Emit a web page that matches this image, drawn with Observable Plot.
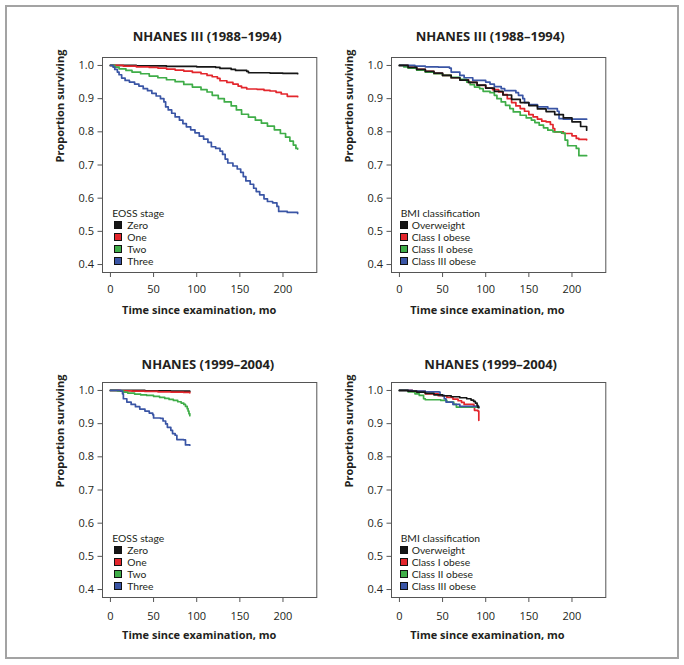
<!DOCTYPE html>
<html><head><meta charset="utf-8">
<script src="https://cdn.jsdelivr.net/npm/d3@7"></script>
<script src="https://cdn.jsdelivr.net/npm/@observablehq/plot@0.6"></script>
<style>
body{margin:0;background:#fff;font-family:"Open Sans",sans-serif;color:#231f20;}
#page{position:relative;width:684px;height:665px;overflow:hidden;}
#border{position:absolute;left:5px;top:5px;width:674px;height:654px;box-sizing:border-box;border:2px solid #a3a3a3;}
.panel{position:absolute;}
.lg{position:absolute;font-family:Lato,"Open Sans",sans-serif;font-size:10.3px;line-height:12px;height:12px;white-space:nowrap;}
.sw{position:absolute;width:6px;height:6px;border:0.8px solid #111;}
</style>
</head><body>
<div id="page"><div id="border"></div></div>
<script>
// ---- data (months, proportion surviving) ----
const xTicks = [0, 50, 100, 150, 200];
const yTicks = [0.4, 0.5, 0.6, 0.7, 0.8, 0.9, 1.0];
const eossStages = ["Zero", "One", "Two", "Three"];
const bmiClasses = ["Overweight", "Class I obese", "Class II obese", "Class III obese"];
const seriesColors = ["#161616", "#e3262c", "#3fad48", "#3a55a5"];

// NHANES III (1988–1994), EOSS stage
const eossIIIZero = [[0,1],[30,0.999],[65,0.997],[100,0.996],[122,0.994],[127,0.991],[140,0.988],[145,0.985],[158,0.982],[160,0.978],[185,0.977],[200,0.976],[217,0.975]];
const eossIIIOne = [[0,1],[15,0.998],[30,0.996],[45,0.994],[55,0.992],[65,0.989],[75,0.986],[85,0.983],[95,0.979],[105,0.975],[112,0.970],[118,0.966],[124,0.961],[127,0.954],[135,0.949],[142,0.944],[148,0.938],[152,0.933],[158,0.929],[170,0.928],[178,0.925],[185,0.923],[192,0.919],[198,0.914],[205,0.907],[217,0.906]];
const eossIIITwo = [[0,1],[5,0.995],[10,0.990],[18,0.985],[25,0.980],[35,0.975],[45,0.968],[55,0.963],[65,0.957],[75,0.951],[85,0.943],[95,0.935],[105,0.927],[112,0.920],[118,0.910],[125,0.900],[132,0.890],[140,0.878],[146,0.866],[152,0.853],[160,0.844],[168,0.835],[175,0.826],[182,0.817],[190,0.806],[197,0.795],[203,0.784],[208,0.772],[212,0.760],[215,0.750],[217,0.748]];
const eossIIIThree = [[0,1],[3,0.995],[5,0.988],[8,0.980],[10,0.972],[13,0.962],[17,0.955],[22,0.950],[28,0.944],[33,0.938],[38,0.930],[43,0.924],[48,0.916],[53,0.908],[58,0.900],[62,0.890],[64,0.875],[67,0.866],[71,0.856],[75,0.845],[80,0.835],[84,0.825],[88,0.815],[93,0.806],[98,0.797],[103,0.787],[108,0.778],[113,0.768],[117,0.755],[122,0.750],[127,0.742],[130,0.732],[133,0.718],[136,0.706],[142,0.697],[147,0.688],[151,0.678],[154,0.665],[157,0.652],[162,0.642],[166,0.630],[169,0.620],[173,0.610],[178,0.598],[182,0.590],[188,0.586],[193,0.575],[195,0.560],[205,0.557],[217,0.554]];

// NHANES III (1988–1994), BMI classification
const bmiIIIOver = [[0,1],[10,0.994],[20,0.988],[30,0.982],[40,0.977],[50,0.970],[60,0.963],[70,0.956],[80,0.949],[90,0.941],[100,0.932],[110,0.922],[120,0.911],[130,0.898],[140,0.888],[150,0.879],[160,0.869],[170,0.861],[180,0.852],[190,0.842],[200,0.830],[210,0.816],[217,0.805]];
const bmiIIIClass1 = [[0,1],[10,0.994],[20,0.988],[30,0.982],[40,0.976],[50,0.970],[60,0.963],[70,0.957],[80,0.949],[90,0.940],[100,0.932],[108,0.927],[115,0.920],[120,0.912],[125,0.900],[130,0.888],[135,0.878],[140,0.870],[145,0.862],[150,0.852],[155,0.845],[160,0.838],[165,0.832],[170,0.830],[175,0.822],[178,0.810],[180,0.800],[190,0.795],[200,0.788],[205,0.780],[208,0.777],[217,0.776]];
const bmiIIIClass2 = [[0,1],[5,0.996],[10,0.992],[20,0.986],[30,0.980],[40,0.975],[50,0.970],[60,0.964],[70,0.958],[78,0.950],[82,0.942],[87,0.935],[93,0.930],[97,0.922],[105,0.918],[110,0.910],[113,0.900],[118,0.890],[123,0.880],[128,0.870],[132,0.860],[140,0.850],[147,0.842],[153,0.835],[157,0.828],[162,0.820],[167,0.812],[172,0.805],[178,0.800],[188,0.796],[192,0.775],[195,0.758],[205,0.750],[208,0.728],[217,0.728]];
const bmiIIIClass3 = [[0,1],[18,0.998],[30,0.996],[45,0.995],[58,0.992],[60,0.980],[70,0.970],[75,0.963],[85,0.955],[100,0.950],[105,0.944],[110,0.936],[118,0.930],[122,0.924],[135,0.918],[138,0.910],[143,0.900],[145,0.888],[150,0.882],[160,0.875],[172,0.870],[183,0.862],[185,0.840],[190,0.838],[217,0.838]];

// NHANES (1999–2004), EOSS stage
const eoss99Zero = [[0,1],[40,0.999],[70,0.998],[92,0.997]];
const eoss99One = [[0,1],[10,0.999],[25,0.998],[40,0.997],[55,0.996],[70,0.995],[85,0.994],[92,0.993]];
const eoss99Two = [[0,1],[8,0.999],[15,0.995],[20,0.992],[28,0.989],[35,0.987],[42,0.985],[50,0.982],[57,0.979],[63,0.976],[68,0.973],[73,0.970],[78,0.966],[82,0.962],[85,0.958],[87,0.952],[89,0.945],[90,0.938],[91,0.930],[92,0.924]];
const eoss99Three = [[0,1],[12,0.998],[14,0.990],[15,0.975],[19,0.965],[24,0.958],[29,0.951],[34,0.944],[40,0.938],[45,0.932],[49,0.927],[50,0.917],[58,0.916],[61,0.908],[64,0.899],[66,0.889],[70,0.880],[72,0.870],[75,0.865],[77,0.852],[85,0.851],[87,0.836],[92,0.835]];

// NHANES (1999–2004), BMI classification
const bmi99Over = [[0,1],[10,0.998],[20,0.995],[30,0.991],[40,0.987],[50,0.984],[60,0.981],[70,0.978],[78,0.975],[83,0.971],[86,0.967],[88,0.962],[90,0.955],[91,0.949],[92,0.948]];
const bmi99Class1 = [[0,1],[15,0.997],[30,0.990],[45,0.984],[55,0.979],[62,0.974],[68,0.969],[72,0.964],[75,0.958],[86,0.955],[87,0.940],[91,0.938],[92,0.910]];
const bmi99Class2 = [[0,1],[10,0.996],[18,0.990],[23,0.985],[28,0.975],[30,0.972],[48,0.970],[55,0.965],[63,0.958],[66,0.950],[92,0.950]];
const bmi99Class3 = [[0,1],[15,0.998],[30,0.996],[46,0.995],[47,0.985],[52,0.975],[54,0.965],[62,0.958],[70,0.952],[92,0.952]];

// ---- layout ----
const panels = [
  {boxX:102, boxY:56.5, title:"NHANES III (1988–1994)", tDx:-2.5, tDy:-25.8, xlDx:-10.5, tickPad:7.5,
   legTitle:"EOSS stage", names:eossStages, series:[eossIIIZero,eossIIIOne,eossIIITwo,eossIIIThree], order:[0,1,2,3], lt:10.3, ls:11.7, lx:25.3},
  {boxX:390.8, boxY:56.5, title:"NHANES III (1988–1994)", tDx:-8.5, tDy:-25.8, xlDx:-11.3, tickPad:7.5,
   legTitle:"BMI classification", names:bmiClasses, series:[bmiIIIOver,bmiIIIClass1,bmiIIIClass2,bmiIIIClass3], order:[1,2,3,0], lt:9.9, ls:9.2, lx:20.9},
  {boxX:102, boxY:381.7, title:"NHANES (1999–2004)", tDx:-1.7, tDy:-22.4, xlDx:-10.5, tickPad:9.5,
   legTitle:"EOSS stage", names:eossStages, series:[eoss99Zero,eoss99One,eoss99Two,eoss99Three], order:[0,1,2,3], lt:10.3, ls:11.7, lx:25.3},
  {boxX:390.8, boxY:381.7, title:"NHANES (1999–2004)", tDx:-8, tDy:-22.4, xlDx:-11.3, tickPad:9.5,
   legTitle:"BMI classification", names:bmiClasses, series:[bmi99Over,bmi99Class1,bmi99Class2,bmi99Class3], order:[1,2,3,0], lt:9.9, ls:9.2, lx:20.9}
];

const page = document.getElementById("page");
const W = 330, H = 335, mL = 82, mT = 45, boxW = 214.3, boxH = 215;

for (const p of panels) {
  const rows = [];
  p.order.forEach(i => p.series[i].forEach(([t, s]) => rows.push({t, s, group: p.names[i]})));
  const chart = Plot.plot({
    width: W, height: H,
    marginLeft: mL, marginTop: mT, marginRight: W - mL - boxW, marginBottom: H - mT - boxH,
    x: {domain: [-9.2, 239.2]},
    y: {domain: [0.376, 1.024]},
    color: {domain: p.names, range: seriesColors},
    style: {fontFamily: "'Open Sans', sans-serif", fontSize: "11px", color: "#231f20", background: "transparent", overflow: "visible"},
    marks: [
      Plot.axisY({ticks: yTicks, tickFormat: d3.format(".1f"), tickSize: 4.5, tickPadding: 4, stroke: "#555", label: null, fontSize: 11}),
      Plot.axisX({ticks: xTicks, tickSize: 5, tickPadding: p.tickPad, stroke: "#555", label: null, fontSize: 11}),
      Plot.line(rows, {x: "t", y: "s", z: "group", stroke: "group", curve: "step-after", strokeWidth: 1.7}),
      Plot.frame({stroke: "#555", strokeWidth: 1}),
      Plot.text([p.title], {text: d => d, frameAnchor: "top", dx: p.tDx, dy: p.tDy, fontWeight: "bold", fontSize: 13}),
      Plot.text(["Proportion surviving"], {text: d => d, frameAnchor: "left", rotate: -90, dx: -42.5, dy: -2.5, fontWeight: "bold", fontSize: 11}),
      Plot.text(["Time since examination, mo"], {text: d => d, frameAnchor: "bottom", dx: p.xlDx, dy: 41, fontWeight: "bold", fontSize: 11})
    ]
  });
  const wrap = document.createElement("div");
  wrap.className = "panel";
  wrap.style.left = (p.boxX - mL) + "px";
  wrap.style.top = (p.boxY - mT) + "px";
  wrap.appendChild(chart);
  page.appendChild(wrap);

  // legend (HTML, drawn from the names/colours arrays)
  const bottom = p.boxY + boxH;
  const t = document.createElement("div");
  t.className = "lg";
  t.textContent = p.legTitle;
  t.style.left = (p.boxX + p.lt) + "px";
  t.style.top = (bottom - 64.8) + "px";
  page.appendChild(t);
  p.names.forEach((name, i) => {
    const cy = bottom - 46.8 + 12 * i;
    const sw = document.createElement("div");
    sw.className = "sw";
    sw.style.background = seriesColors[i];
    sw.style.left = (p.boxX + p.ls) + "px";
    sw.style.top = (cy - 3.8) + "px";
    page.appendChild(sw);
    const lab = document.createElement("div");
    lab.className = "lg";
    lab.textContent = name;
    lab.style.left = (p.boxX + p.lx) + "px";
    lab.style.top = (cy - 6) + "px";
    page.appendChild(lab);
  });
}
</script>
</body></html>
